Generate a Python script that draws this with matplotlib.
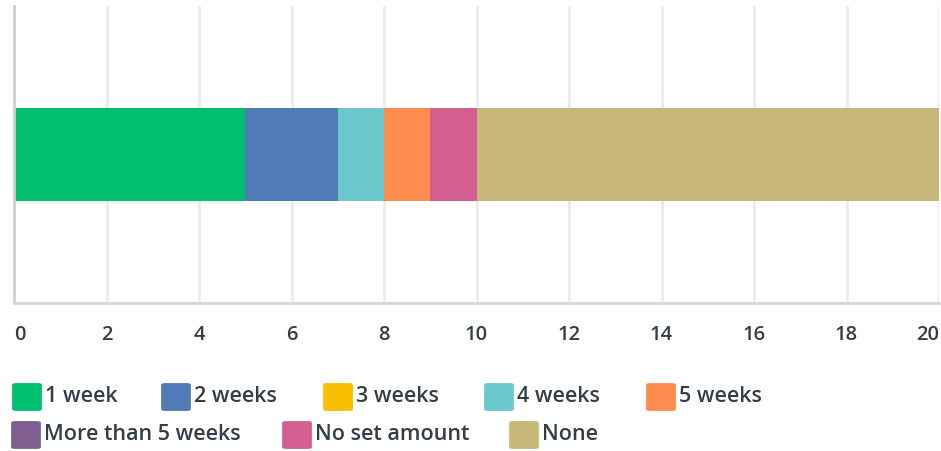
import matplotlib.pyplot as plt
from matplotlib.patches import FancyBboxPatch

categories = ['1 week', '2 weeks', '3 weeks', '4 weeks', '5 weeks',
              'More than 5 weeks', 'No set amount', 'None']
values = [5, 2, 0, 1, 1, 0, 1, 10]
colors = ['#00bf6f', '#507cb6', '#f9be00', '#6bc8cd', '#ff8b4f',
          '#7f5f90', '#d25f90', '#c7b879']
xticks = [0, 2, 4, 6, 8, 10, 12, 14, 16, 18, 20]

W, H = 941, 451
text_color = '#333e48'
plt.rcParams['font.family'] = ['Open Sans', 'DejaVu Sans']

fig = plt.figure(figsize=(W / 100, H / 100), dpi=100)
ax = fig.add_axes([14 / W, 1 - 303 / H, 925 / W, 297 / H])

left = 0
for cat, v, c in zip(categories, values, colors):
    ax.barh(0, v, left=left, height=1, color=c, label=cat)
    left += v

ax.set_xlim(0, 20)
ax.set_ylim(-1.6, 1.6)
ax.set_yticks([])
ax.set_xticks(xticks)
ax.set_xticklabels([str(t) for t in xticks], fontsize=14.5, fontweight=600, color=text_color)
labs = ax.get_xticklabels()
labs[0].set_ha('left')
labs[-1].set_ha('right')
ax.tick_params(axis='x', length=0, pad=16)
ax.grid(axis='x', color='#ebebeb', linewidth=2)
ax.set_axisbelow(True)
for s in ['top', 'right']:
    ax.spines[s].set_visible(False)
ax.spines['left'].set_color('#cfcfcf')
ax.spines['left'].set_linewidth(2)
ax.spines['bottom'].set_color('#d6d6d6')
ax.spines['bottom'].set_linewidth(2)

# legend laid out by hand (flowing rows)
legend_pos = [(12, 397), (161, 397), (323, 397), (484, 397), (646, 397),
              (11, 435), (282, 435), (509, 435)]
for (px, py), cat, c in zip(legend_pos, categories, colors):
    box = FancyBboxPatch(((px + 2) / W, 1 - (py + 13) / H), 26 / W, 26 / H,
                         boxstyle='round,pad=0.002,rounding_size=0.004',
                         transform=fig.transFigure, facecolor=c, edgecolor='none')
    fig.add_artist(box)
    fig.text((px + 33) / W, 1 - py / H, cat, fontsize=15.5, fontweight=600,
             color=text_color, va='center', ha='left')

fig.savefig('out.png', dpi=100)
